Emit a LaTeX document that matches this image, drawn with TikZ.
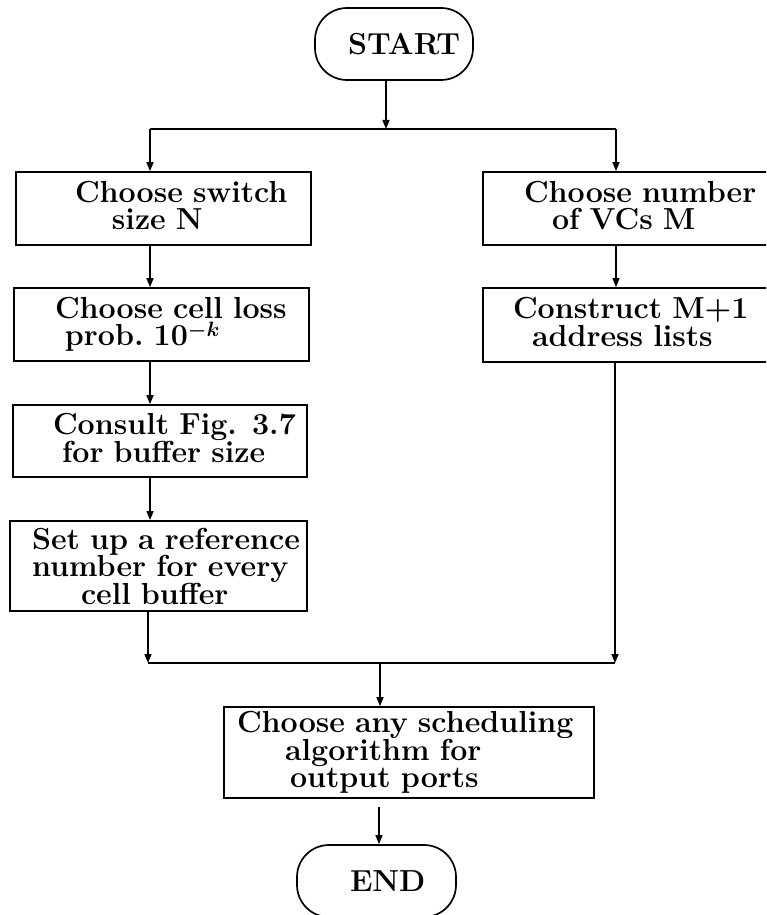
\documentclass[tikz,border=0pt]{standalone}
\usetikzlibrary{arrows.meta}
% one line of box text, indented from the box's left edge
\newcommand\tline[2]{\hspace*{#1pt}\mbox{#2}}
% descender strut so boxes with no descenders sit like the others
\newcommand\dstrut{\rule[-5.8pt]{0pt}{5.8pt}}
\begin{document}
\begin{tikzpicture}[x=1pt,y=-1pt,
  every node/.style={font=\fontsize{30.4}{27.5}\selectfont\bfseries\boldmath},
  proc/.style={draw, line width=1.7pt, rectangle, inner xsep=0pt, inner ysep=0pt, align=left},
  term/.style={draw, line width=1.7pt, rectangle, rounded corners=32pt, inner xsep=0pt, inner ysep=0pt, align=left},
  flow/.style={line width=1.5pt, -{Triangle[length=9pt,width=7pt]}},
  wire/.style={line width=1.5pt}]

\path[use as bounding box, clip] (0,0) rectangle (766,915);
\fill[white] (0,0) rectangle (766,915);

% terminals
\node[term, text width=158pt, minimum height=72pt] (start) at (394,44) {\tline{33}{START}};
\node[term, text width=159pt, minimum height=72pt] (stop) at (376.5,881) {\tline{53}{END}};

% left column
\node[proc, text width=295pt, minimum height=73pt] (size) at (163.5,208.5)
  {\tline{59}{Choose switch}\\\tline{96}{size N}\dstrut};
\node[proc, text width=295pt, minimum height=73pt] (loss) at (161.5,324.5)
  {\tline{41}{Choose cell loss}\\\tline{51}{prob.\ 10$^{-k}$}};
\node[proc, text width=294pt, minimum height=72pt] (fig) at (160,441)
  {\tline{40}{Consult Fig. 3.7}\\\tline{49}{for buffer size}\dstrut};
\node[proc, text width=297pt, minimum height=90pt] (refno) at (158.5,566)
  {\tline{22}{Set up a reference}\\\tline{22}{number for every}\\\tline{71}{cell buffer}};

% right column
\node[proc, text width=295pt, minimum height=73pt] (vcs) at (630.5,208.5)
  {\tline{41}{Choose number}\\\tline{69}{of VCs M}\dstrut};
\node[proc, text width=295pt, minimum height=74pt] (lists) at (630.5,325)
  {\tline{30}{Construct M+1}\\\tline{49}{address lists}\dstrut};

% joint step
\node[proc, text width=370pt, minimum height=91pt] (sched) at (409,752.5)
  {\tline{13}{Choose any scheduling}\\\tline{61}{algorithm for}\\\tline{66}{output ports}};

% fork below START
\coordinate (split) at (386,129);
\coordinate (splitL) at (150,129);
\coordinate (splitR) at (616,129);
\draw[flow] (start.south -| split) -- (split);
\draw[wire] (splitL) -- (splitR);
\draw[flow] (splitL) -- (splitL |- size.north);
\draw[flow] (splitR) -- (splitR |- vcs.north);

% left chain
\draw[flow] (size.south -| splitL) -- (splitL |- loss.north);
\draw[flow] (loss.south -| splitL) -- (splitL |- fig.north);
\draw[flow] (fig.south -| splitL) -- (splitL |- refno.north);

% right chain
\draw[flow] (vcs.south -| splitR) -- (splitR |- lists.north);

% join
\coordinate (mergeL) at (148,663);
\coordinate (mergeR) at (615,663);
\coordinate (merge) at (380,663);
\draw[flow] (refno.south -| mergeL) -- (mergeL);
\draw[flow] (lists.south -| mergeR) -- (mergeR);
\draw[wire] (mergeL) -- (mergeR);
\draw[flow] (merge) -- (merge |- sched.north);

% to END
\coordinate (out) at (379,807);
\draw[flow] (out) -- (out |- stop.north);
\end{tikzpicture}
\end{document}
